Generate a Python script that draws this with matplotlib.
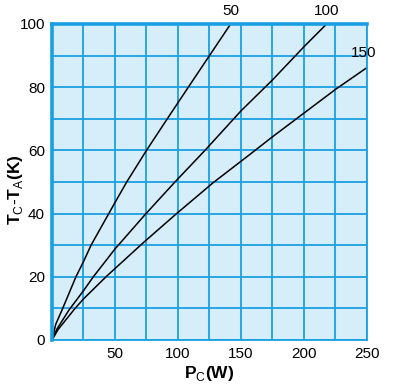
import matplotlib
matplotlib.use('Agg')
from matplotlib import pyplot as plt

# values
pc_50 = [0, 3, 8.5, 19, 25, 31, 50, 59.3, 75, 91.5, 108.2, 125, 141.8]
tc_50 = [0, 5, 10, 20, 24.8, 30, 43.5, 50, 60, 70, 80, 90, 100]
pc_100 = [0, 4, 13.5, 25, 32.8, 50, 74.6, 97.6, 121.4, 150, 175, 200, 218]
tc_100 = [0, 3.5, 9.5, 15.6, 20, 28.8, 40, 50, 60, 72.5, 82.3, 92.8, 100]
pc_150 = [0, 5, 18.3, 25, 43.4, 72.5, 98.9, 128, 157, 175, 200, 225, 250]
tc_150 = [0, 3.4, 10, 13, 20.2, 30.8, 40, 49.8, 58.7, 64.3, 71.8, 79.3, 86.2]
curve_names = ['50', '100', '150']
x_ticks = [50, 100, 150, 200, 250]
y_ticks = [0, 20, 40, 60, 80, 100]

plt.rcParams['font.family'] = ['Liberation Sans', 'DejaVu Sans']
plt.rcParams['mathtext.fontset'] = 'custom'
plt.rcParams['mathtext.rm'] = 'Liberation Sans'
plt.rcParams['mathtext.bf'] = 'Liberation Sans:bold'

grid_color = '#1aa0e2'
fig = plt.figure(figsize=(3.93, 3.86), dpi=100)
ax = fig.add_axes([0.1323, 0.1192, 0.8015, 0.8187])
ax.set_facecolor('#d6edfa')

ax.plot(pc_50, tc_50, color='black', lw=1.1)
ax.plot(pc_100, tc_100, color='black', lw=1.1)
ax.plot(pc_150, tc_150, color='black', lw=1.1)

ax.set_xlim(0, 250)
ax.set_ylim(0, 100)
ax.set_xticks(range(0, 251, 25))
ax.set_yticks(range(0, 101, 10))
ax.set_xticklabels(['' if v not in x_ticks else str(v) for v in range(0, 251, 25)])
ax.set_yticklabels(['' if v not in y_ticks else str(v) for v in range(0, 101, 10)])
ax.tick_params(length=0, labelsize=11, pad=5)
ax.grid(True, color=grid_color, lw=1.3)
ax.set_axisbelow(True)
for side in ['left', 'top']:
    ax.spines[side].set_color(grid_color)
    ax.spines[side].set_linewidth(2.6)
for side in ['right', 'bottom']:
    ax.spines[side].set_color(grid_color)
    ax.spines[side].set_linewidth(1.3)

ax.text(pc_50[-1], 102, curve_names[0], ha='center', va='bottom', fontsize=11, clip_on=False)
ax.text(pc_100[-1], 102, curve_names[1], ha='center', va='bottom', fontsize=11, clip_on=False)
ax.text(247, 88.5, curve_names[2], ha='center', va='bottom', fontsize=11, clip_on=False)

ax.set_xlabel(r'$\mathbf{P}_\mathrm{C}\mathbf{(W)}$', fontsize=12.5)
ax.xaxis.set_label_coords(0.5, -0.076)
ax.set_ylabel(r'$\mathbf{T}_\mathrm{C}\mathbf{\text{-}T}_\mathrm{A}\mathbf{(K)}$', fontsize=12.5)
ax.yaxis.set_label_coords(-0.086, 0.475)

plt.savefig('out.png', dpi=100)
